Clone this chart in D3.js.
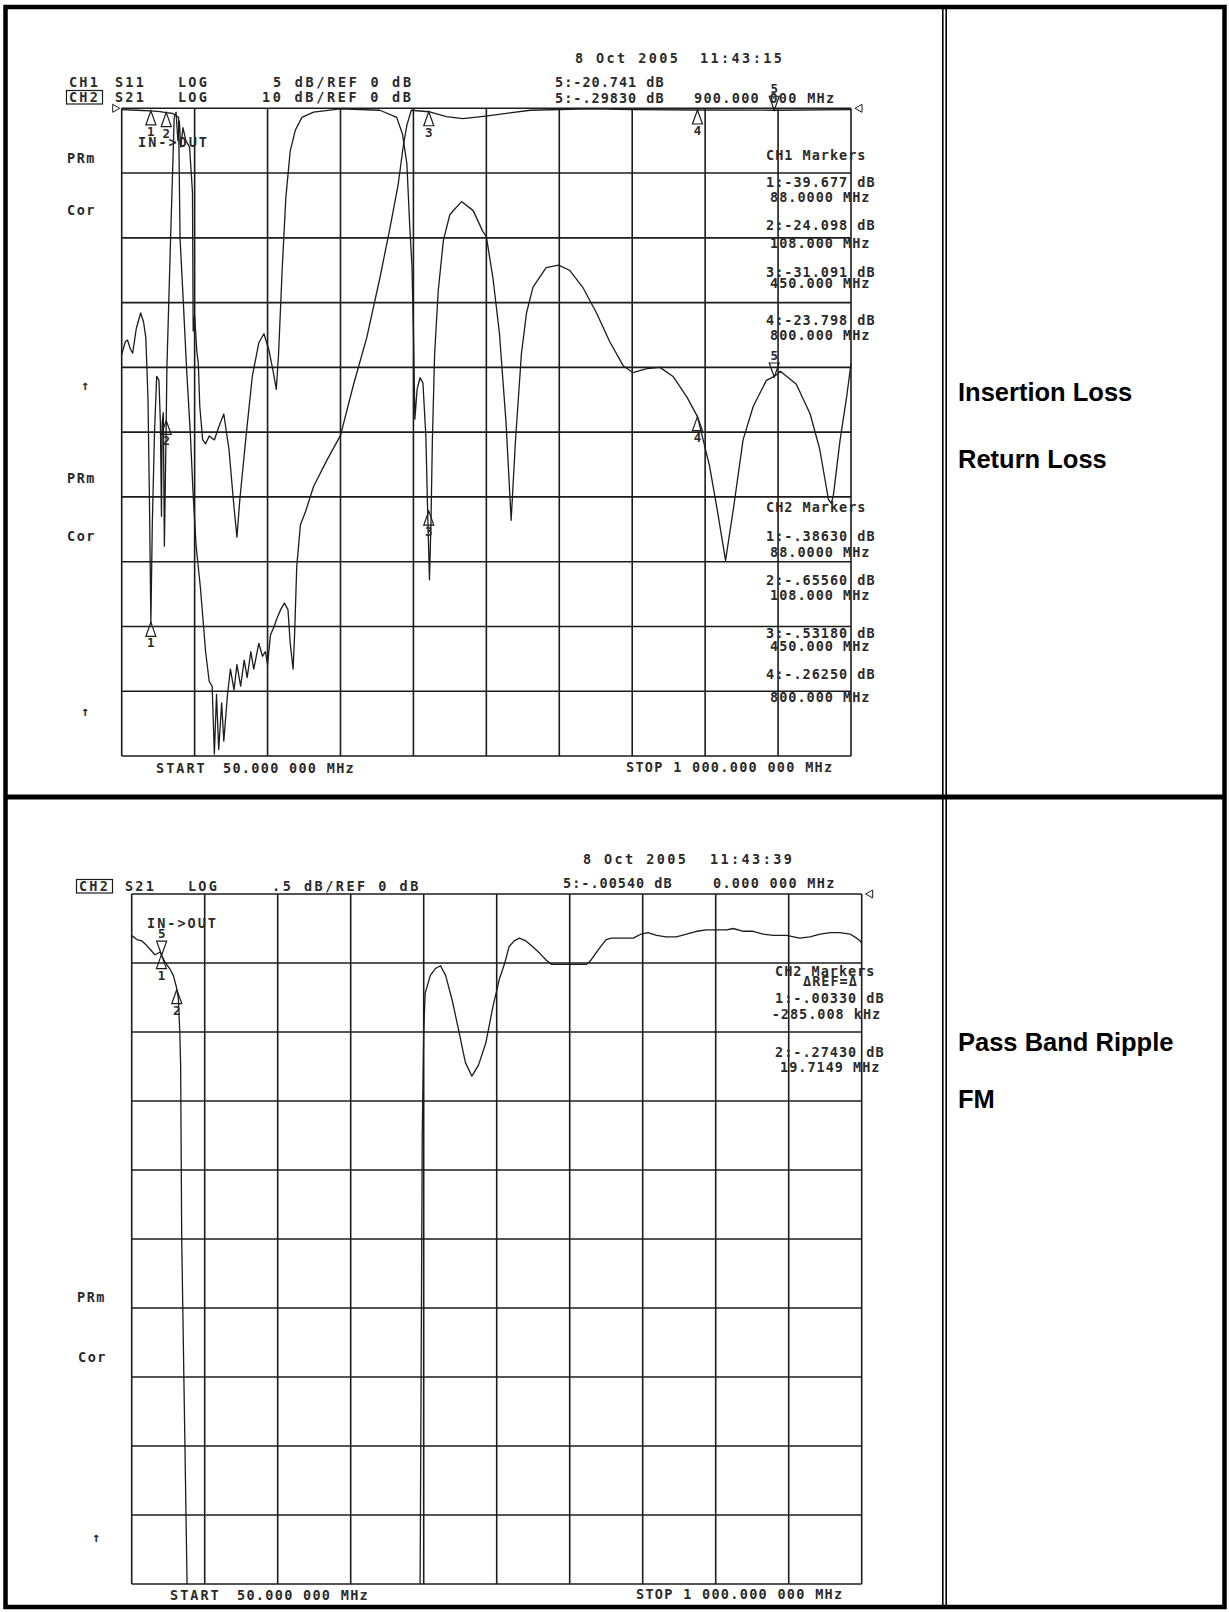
<!DOCTYPE html>
<html>
<head>
<meta charset="utf-8">
<script src="https://cdn.jsdelivr.net/npm/d3@7"></script>
<style>
  body { margin: 0; background: #fff; }
  .hp text { font-family: "DejaVu Sans Mono", monospace; font-size: 13.5px; font-weight: bold; fill: #2b2b2b; }
  .lbl { font-family: Arial, "Liberation Sans", sans-serif; font-weight: bold; font-size: 25.5px; fill: #000; }
</style>
</head>
<body>
<script>
const W = 1229, H = 1612;

// sweep 50 .. 1000 MHz
const span = [50, 1000];

const s11Freq = [50, 54.8, 57.6, 61.4, 64.3, 69, 74.7, 78.5, 81.4, 84.2,
  86.1, 88, 89.9, 92.8, 95.6, 98.5, 100.4, 101.8, 102.7, 104.2,
  105.6, 108, 108.9, 113.7, 118.4, 120.8, 123.2, 125.1, 127, 129.8,
  133.6, 138.4, 142.2, 143.1, 145, 147.9, 149.8, 151.7, 155.5, 159.3,
  164, 170.7, 176.4, 183, 189.7, 196.3, 200.1, 203.9, 211.5, 220.1,
  228.6, 235.3, 241.9, 247.6, 251.4, 254.3, 259, 263.8, 269.5, 276.1,
  284.7, 299.9, 335, 386.3, 408.2, 415.8, 421.5, 425.3, 428.1, 430,
  431.9, 434.8, 438.6, 442.4, 446.2, 449, 450.9, 452.8, 454.7, 457.6,
  462.3, 469, 477.5, 492.7, 507.9, 520.3, 525, 533.6, 542.1, 550.7,
  557.3, 563, 570.6, 577.3, 585.8, 602.9, 619.1, 633.3, 650.4, 668.5,
  685.6, 703.6, 716, 734, 751.1, 768.2, 786.3, 800, 815.7, 825.2,
  836.6, 847.1, 859.4, 872.7, 889.8, 900, 908, 928.8, 946.8, 959.2,
  970.6, 974.4, 977.2, 985.8, 994.3, 1000];
const s11Db = [-19.0, -18.0, -17.9, -18.6, -18.9, -17.0, -15.8, -16.5, -17.7, -22.3,
  -30.0, -39.7, -32.0, -24.9, -20.7, -21.0, -24.3, -31.5, -24.3, -23.5,
  -33.8, -24.1, -20.0, -10.0, -0.7, -0.3, -2.5, -1.0, -3.0, -1.5,
  -2.5, -3.0, -6.5, -17.2, -16.0, -18.8, -19.7, -23.0, -25.6, -25.9,
  -25.3, -25.6, -24.6, -23.6, -26.3, -30.8, -33.1, -30.2, -25.6, -20.7,
  -18.1, -17.4, -18.7, -20.4, -21.7, -19.0, -12.5, -6.9, -3.3, -1.7,
  -0.7, -0.3, -0.05, -0.15, -0.7, -2.0, -4.3, -9.2, -12.2, -17.1,
  -24.0, -21.7, -20.8, -21.2, -25.3, -32.2, -36.4, -32.2, -25.6, -19.0,
  -14.1, -10.2, -8.2, -7.2, -7.9, -9.5, -9.9, -13.1, -17.4, -24.3,
  -31.8, -25.6, -19.0, -15.8, -13.8, -12.3, -12.1, -12.5, -13.8, -15.8,
  -18.0, -19.9, -20.4, -20.1, -20.0, -20.7, -22.3, -23.8, -27.6, -30.8,
  -34.9, -30.8, -25.6, -23.0, -21.0, -20.7, -20.3, -21.3, -23.6, -26.3,
  -30.2, -30.5, -29.8, -25.6, -22.3, -19.7];

const s21Freq = [50, 70, 88, 100, 108, 116.5, 124.1, 126, 130.3, 134.6,
  139.3, 143.1, 146.9, 152.6, 159.3, 164, 167.8, 170.7, 173.5, 176.4,
  180.2, 183, 187.8, 191.6, 196.3, 200.1, 204.9, 209.6, 213.4, 218.2,
  222, 228.6, 233.4, 237.2, 240, 243.8, 248.6, 252.4, 257.1, 261.9,
  266.6, 269.5, 273.3, 275.2, 278, 282.8, 289.4, 299.9, 317, 335,
  352.1, 369.2, 386.3, 399.6, 410.1, 416.7, 421.5, 427.2, 450, 472.8,
  494.6, 524, 582, 660, 715, 800, 900, 1000];
const s21Db = [-0.2, -0.3, -0.39, -0.5, -0.66, -0.8, -1.4, -20, -30, -40.4,
  -50, -59.7, -67.5, -74.1, -83.9, -88.5, -89.2, -99.7, -90.5, -99,
  -91.8, -97.7, -90.5, -86.6, -89.8, -85.9, -89.2, -85.2, -87.9, -83.9,
  -86.6, -82.6, -84.6, -83.9, -85.9, -81.3, -80, -78.7, -77.4, -76.4,
  -77.4, -82.6, -86.6, -81.3, -70.8, -64.3, -62.3, -58.4, -54.4, -50.5,
  -42.6, -35.4, -26.2, -18.4, -11.8, -5.9, -2.6, -0.3, -0.53, -1.3,
  -1.6, -1.2, -0.3, -0.1, -0.2, -0.26, -0.3, -0.2];

const markerFreq = [88, 108, 450, 800, 900];
const markerName = ["1", "2", "3", "4", "5"];
const s11MarkerDb = [-39.677, -24.098, -31.091, -23.798, -20.741];
const s21MarkerDb = [-0.3863, -0.6556, -0.5318, -0.2625, -0.2983];

const rippleFreq = [50, 56.7, 63.3, 69, 73.8, 80.4, 87.1, 92.8, 99.4, 104.2,
  108, 110.8, 112.7, 113.7, 115.1, 122.2, 425.3, 428.1, 430, 431.9,
  438.6, 445.2, 451.9, 458.5, 467.1, 475.6, 484.2, 492.7, 501.3, 510.8,
  520.3, 528.8, 535.5, 541.2, 547.8, 554.5, 563, 571.6, 581.1, 589.6,
  596.3, 611.5, 629.5, 641.9, 647.6, 659, 667.5, 674.2, 689.4, 702.7,
  713.1, 721.7, 733.1, 745.4, 758.7, 772, 785.3, 797.7, 811, 824.3,
  832.8, 846.1, 858.5, 871.8, 885.1, 902.2, 919.3, 932.6, 945.9, 959.2,
  971.5, 984.8, 993.4, 998.1, 1000];
const rippleDb = [-0.30, -0.33, -0.34, -0.37, -0.40, -0.44, -0.42, -0.49, -0.54, -0.59,
  -0.67, -0.76, -1.02, -1.25, -2.5, -5.05, -5.05, -1.75, -0.99, -0.72,
  -0.59, -0.54, -0.52, -0.59, -0.77, -0.99, -1.22, -1.32, -1.24, -1.08,
  -0.81, -0.61, -0.50, -0.38, -0.34, -0.32, -0.34, -0.38, -0.43, -0.48,
  -0.51, -0.51, -0.51, -0.51, -0.48, -0.39, -0.33, -0.32, -0.32, -0.32,
  -0.29, -0.28, -0.30, -0.31, -0.31, -0.29, -0.27, -0.26, -0.26, -0.26,
  -0.25, -0.27, -0.27, -0.29, -0.30, -0.30, -0.32, -0.31, -0.29, -0.28,
  -0.28, -0.29, -0.32, -0.34, -0.36];
const rippleMarkerFreq = [89.0, 88.7, 108.7];
const rippleMarkerName = ["5", "1", "2"];

const labelsTop = ["Insertion Loss", "Return Loss"];
const labelsBottom = ["Pass Band Ripple", "FM"];

const ink = "#1c1c1c";

const svg = d3.select("body").append("svg")
  .attr("width", W).attr("height", H)
  .style("display", "block");

function txt(g, x, y, s, ls = 1.7, anchor = "start") {
  return g.append("text")
    .attr("x", x).attr("y", y)
    .attr("letter-spacing", ls)
    .attr("text-anchor", anchor)
    .text(s);
}

function grid(g, x, y, yStep) {
  const fTicks = d3.range(11).map(i => span[0] + i * (span[1] - span[0]) / 10);
  const dTicks = d3.range(11).map(i => -i * yStep);
  const [y0, y1] = y.range();
  g.append("g").selectAll("line").data(fTicks).join("line")
    .attr("x1", d => x(d)).attr("x2", d => x(d))
    .attr("y1", y0).attr("y2", y1)
    .attr("stroke", ink).attr("stroke-width", 1.6);
  g.append("g").selectAll("line").data(dTicks).join("line")
    .attr("x1", x.range()[0]).attr("x2", x.range()[1])
    .attr("y1", d => y(d)).attr("y2", d => y(d))
    .attr("stroke", ink).attr("stroke-width", 1.6);
}

function trace(g, x, y, fs, vs, clip) {
  const line = d3.line().x(d => x(d[0])).y(d => y(d[1]));
  const p = g.append("path")
    .datum(d3.zip(fs, vs))
    .attr("d", line)
    .attr("fill", "none")
    .attr("stroke", ink)
    .attr("stroke-width", 1.3)
    .attr("stroke-linejoin", "round");
  if (clip) p.attr("clip-path", clip);
}

// open triangle, apex on the trace; up = reference marker, down = active marker
function marker(g, px, py, name, down) {
  const h = 14, w = 5;
  const d = down
    ? `M${px},${py}L${px - w},${py - h}L${px + w},${py - h}Z`
    : `M${px},${py}L${px - w},${py + h}L${px + w},${py + h}Z`;
  g.append("path").attr("d", d).attr("fill", "none").attr("stroke", ink).attr("stroke-width", 1.2);
  txt(g, px, down ? py - h - 3 : py + h + 11, name, 0, "middle").style("font-size", "12.5px");
}

// ---------- table frame ----------
svg.append("rect")
  .attr("x", 5.5).attr("y", 7).attr("width", 1219).attr("height", 1600)
  .attr("fill", "none").attr("stroke", "#000").attr("stroke-width", 4.5);
svg.append("line").attr("x1", 5).attr("x2", 1225).attr("y1", 797).attr("y2", 797)
  .attr("stroke", "#000").attr("stroke-width", 5);
[942.8, 946.2].forEach(xx => svg.append("line")
  .attr("x1", xx).attr("x2", xx).attr("y1", 7).attr("y2", 1607)
  .attr("stroke", "#000").attr("stroke-width", 1.6));

// ---------- chart 1 : S11 (5 dB/div) + S21 (10 dB/div) ----------
{
  const g = svg.append("g").attr("class", "hp");
  const x = d3.scaleLinear(span, [121.7, 851]);
  const y11 = d3.scaleLinear([-50, 0], [756, 108.3]);
  const y21 = d3.scaleLinear([-100, 0], [756, 108.3]);

  grid(g, x, y11, 5);
  trace(g, x, y11, s11Freq, s11Db);
  trace(g, x, y21, s21Freq, s21Db);

  markerFreq.forEach((f, i) => {
    const active = i === 4;
    marker(g, x(f), y11(s11MarkerDb[i]), markerName[i], active);
    marker(g, x(f), y21(s21MarkerDb[i]), markerName[i], active);
  });

  // reference-position arrows
  g.append("path").attr("d", `M${x.range()[0] - 9},${y11(0) - 4}L${x.range()[0] - 2},${y11(0)}L${x.range()[0] - 9},${y11(0) + 4}Z`)
    .attr("fill", "none").attr("stroke", ink);
  g.append("path").attr("d", `M${x.range()[1] + 11},${y11(0) - 4}L${x.range()[1] + 4},${y11(0)}L${x.range()[1] + 11},${y11(0) + 4}Z`)
    .attr("fill", "none").attr("stroke", ink);

  txt(g, 575, 63, "8 Oct 2005", 2.4);
  txt(g, 700, 63, "11:43:15", 2.4);
  txt(g, 69, 87, "CH1", 2.2);
  txt(g, 115, 87, "S11", 2.2);
  txt(g, 178, 87, "LOG", 2.2);
  txt(g, 273, 87, "5 dB/REF 0 dB", 2.7);
  g.append("rect").attr("x", 66.5).attr("y", 90.5).attr("width", 36).attr("height", 13.5)
    .attr("fill", "none").attr("stroke", ink).attr("stroke-width", 1.2);
  txt(g, 69, 102, "CH2", 2.2);
  txt(g, 115, 102, "S21", 2.2);
  txt(g, 178, 102, "LOG", 2.2);
  txt(g, 262, 102, "10 dB/REF 0 dB", 2.7);
  txt(g, 555, 87, "5:-20.741 dB", 1.0);
  txt(g, 555, 103, "5:-.29830 dB", 1.0);
  txt(g, 694, 103, "900.000 000 MHz", 1.3);
  txt(g, 138, 147, "IN->OUT", 2.0);

  const lx = 67;
  txt(g, lx, 163, "PRm", 1.5);
  txt(g, lx, 215, "Cor", 1.5);
  txt(g, 81, 390, "\u2191", 0);
  txt(g, lx, 483, "PRm", 1.5);
  txt(g, lx, 541, "Cor", 1.5);
  txt(g, 81, 716, "\u2191", 0);

  const ch1 = [["CH1 Markers", 766, 160], ["1:-39.677 dB", 766, 186.5], ["88.0000 MHz", 770, 201.5],
    ["2:-24.098 dB", 766, 230], ["108.000 MHz", 770, 248], ["3:-31.091 dB", 766, 276.5],
    ["450.000 MHz", 770, 288], ["4:-23.798 dB", 766, 325], ["800.000 MHz", 770, 340]];
  const ch2 = [["CH2 Markers", 766, 512], ["1:-.38630 dB", 766, 541], ["88.0000 MHz", 770, 556.5],
    ["2:-.65560 dB", 766, 585], ["108.000 MHz", 770, 600], ["3:-.53180 dB", 766, 637.5],
    ["450.000 MHz", 770, 651], ["4:-.26250 dB", 766, 679], ["800.000 MHz", 770, 701.5]];
  ch1.concat(ch2).forEach(([s, xx, yy]) => txt(g, xx, yy, s, 1.0));

  txt(g, 156, 773, "START", 2.0);
  txt(g, 223, 773, "50.000 000 MHz", 1.3);
  txt(g, 626, 772, "STOP 1 000.000 000 MHz", 1.3);
}

// ---------- chart 2 : S21 pass band, .5 dB/div ----------
{
  const g = svg.append("g").attr("class", "hp");
  const x = d3.scaleLinear(span, [131.7, 861.7]);
  const y = d3.scaleLinear([-5, 0], [1584, 894]);

  svg.append("clipPath").attr("id", "c2").append("rect")
    .attr("x", x.range()[0]).attr("y", y.range()[1])
    .attr("width", x.range()[1] - x.range()[0]).attr("height", y.range()[0] - y.range()[1]);

  grid(g, x, y, 0.5);
  trace(g, x, y, rippleFreq, rippleDb, "url(#c2)");

  const at = d3.scaleLinear(rippleFreq, rippleDb);
  rippleMarkerFreq.forEach((f, i) => {
    marker(g, x(f), y(at(f)), rippleMarkerName[i], i === 0);
  });

  g.append("path").attr("d", `M${x.range()[1] + 11},${y(0) - 4}L${x.range()[1] + 4},${y(0)}L${x.range()[1] + 11},${y(0) + 4}Z`)
    .attr("fill", "none").attr("stroke", ink);

  txt(g, 583, 863.5, "8 Oct 2005", 2.4);
  txt(g, 710, 863.5, "11:43:39", 2.4);
  g.append("rect").attr("x", 76.5).attr("y", 879.5).attr("width", 36).attr("height", 13.5)
    .attr("fill", "none").attr("stroke", ink).attr("stroke-width", 1.2);
  txt(g, 79, 891, "CH2", 2.2);
  txt(g, 125, 891, "S21", 2.2);
  txt(g, 188, 891, "LOG", 2.2);
  txt(g, 272, 891, ".5 dB/REF 0 dB", 2.5);
  txt(g, 563, 887.5, "5:-.00540 dB", 1.0);
  txt(g, 713, 887.5, "0.000 000 MHz", 1.3);
  txt(g, 147, 927.5, "IN->OUT", 2.0);

  [["CH2 Markers", 775, 975.5], ["\u0394REF=\u0394", 803, 986], ["1:-.00330 dB", 775, 1003],
   ["-285.008 kHz", 771.7, 1018.5], ["2:-.27430 dB", 775, 1056.5], ["19.7149 MHz", 780, 1072]]
    .forEach(([s, xx, yy]) => txt(g, xx, yy, s, 1.0));

  txt(g, 77, 1302, "PRm", 1.5);
  txt(g, 78, 1362, "Cor", 1.5);
  txt(g, 92, 1542, "\u2191", 0);

  txt(g, 170, 1600, "START", 2.0);
  txt(g, 237, 1600, "50.000 000 MHz", 1.3);
  txt(g, 636, 1599, "STOP 1 000.000 000 MHz", 1.3);
}

// ---------- right column captions ----------
const cap = svg.append("g");
cap.selectAll("text.top").data(labelsTop).join("text")
  .attr("class", "lbl").attr("x", 958).attr("y", (d, i) => 401 + i * 67).text(d => d);
cap.selectAll("text.bot").data(labelsBottom).join("text")
  .attr("class", "lbl").attr("x", 958).attr("y", (d, i) => 1051 + i * 57).text(d => d);
</script>
</body>
</html>
